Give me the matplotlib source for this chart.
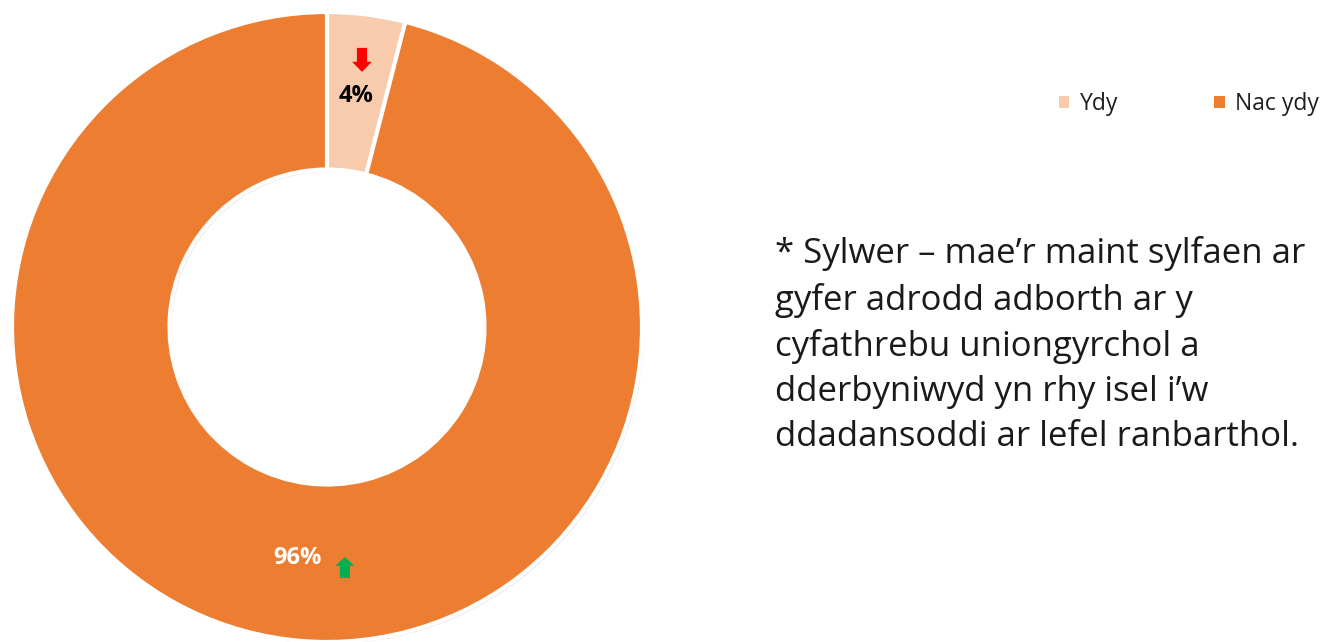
import matplotlib
matplotlib.use("Agg")
import matplotlib.pyplot as plt
from matplotlib.patches import FancyArrow, Patch
import matplotlib.patheffects as pe
import numpy as np

categories = ["Ydy", "Nac ydy"]
values = [4, 96]
labels = ["4%", "96%"]
colors = ["#F8CBAD", "#ED7D31"]
label_colors = ["#000000", "#FFFFFF"]
note = ("* Sylwer \u2013 mae\u2019r maint sylfaen ar\n"
        "gyfer adrodd adborth ar y\n"
        "cyfathrebu uniongyrchol a\n"
        "dderbyniwyd yn rhy isel i\u2019w\n"
        "ddadansoddi ar lefel ranbarthol.")

plt.rcParams['font.family'] = ['Open Sans', 'DejaVu Sans']

W, H = 1325, 642
fig = plt.figure(figsize=(W / 100, H / 100), dpi=100)
cx, cy, R = 327, 327, 315
ax = fig.add_axes([(cx - R) / W, (H - cy - R) / H, 2 * R / W, 2 * R / H])

wedges, _ = ax.pie(values, colors=colors, startangle=90, counterclock=False,
                   radius=1.0,
                   wedgeprops=dict(width=0.5, edgecolor='white', linewidth=3),
                   center=(0, 0))
for w in wedges:
    w.set_path_effects([pe.SimplePatchShadow(offset=(1.5, -1.5), alpha=0.12), pe.Normal()])
ax.set_xlim(-1, 1)
ax.set_ylim(-1, 1)
ax.set_aspect('equal')
ax.axis('off')

# labels
cum = np.cumsum([0] + values[:-1])
for i, (v, lab) in enumerate(zip(values, labels)):
    mid = (cum[i] + v / 2) / sum(values) * 2 * np.pi
    r = 0.74
    x, y = r * np.sin(mid), r * np.cos(mid)
    ax.text(x, y, lab, ha='center', va='center', fontsize=17, fontweight='bold',
            color=label_colors[i])

# arrows (decorations)
ax.add_patch(FancyArrow(0.111, 0.886, 0, -0.076, width=0.032, head_width=0.063,
                        head_length=0.032, length_includes_head=True,
                        color='#FF0000', lw=0))
ax.add_patch(FancyArrow(0.057, -0.797, 0, 0.067, width=0.032, head_width=0.06,
                        head_length=0.028, length_includes_head=True,
                        color='#00B050', lw=0))

# legend
handles = [Patch(facecolor=c, edgecolor='none') for c in colors]
fig.legend(handles, categories, loc='center', bbox_to_anchor=(1189 / W, 1 - 104 / H),
           ncol=2, frameon=False, fontsize=16.5, handlelength=0.45, handleheight=0.45,
           columnspacing=4.2, handletextpad=0.45, labelcolor='#1F1F1F')

fig.text(775 / W, 1 - 345 / H, note, ha='left', va='center', fontsize=25,
         color='#1A1A1A', linespacing=1.42)

fig.savefig("out.png", dpi=100)
